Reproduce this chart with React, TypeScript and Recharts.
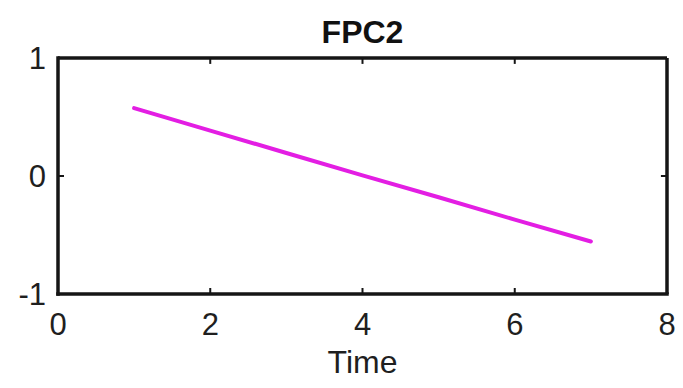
import { LineChart, Line, XAxis, YAxis, ReferenceLine } from 'recharts'

const times = [1, 2, 3, 4, 5, 6, 7]
const fpc2 = [0.575, 0.385, 0.195, 0.005, -0.18, -0.37, -0.555]
const xTicks = [0, 2, 4, 6, 8]
const yTicks = [-1, 0, 1]
const innerXTicks = [2, 4, 6]

const data = times.map((t, i) => ({ time: t, value: fpc2[i] }))

const FONT = '"Liberation Sans", Arial, sans-serif'
const INK = '#1f1f1f'
const AXIS = '#151515'
const FRAME_W = 3.5
const TICK_LEN = 6
const axisLine = { stroke: AXIS, strokeWidth: FRAME_W, strokeLinecap: 'square' as const }

function BottomTick({ x, y, payload }: any) {
  return (
    <g>
      <line x1={x} x2={x} y1={y - 41} y2={y - 41 - TICK_LEN} stroke={AXIS} strokeWidth={2} />
      <text x={x} y={y} textAnchor="middle" fontFamily={FONT} fontSize={31} fill={INK}>
        {payload.value}
      </text>
    </g>
  )
}

function LeftTick({ x, y, payload }: any) {
  return (
    <g>
      <line x1={x + 12} x2={x + 12 + TICK_LEN} y1={y} y2={y} stroke={AXIS} strokeWidth={2} />
      <text x={x} y={y + 11} textAnchor="end" fontFamily={FONT} fontSize={31} fill={INK}>
        {payload.value}
      </text>
    </g>
  )
}

export default function App() {
  return (
    <div style={{ position: 'absolute', left: 0, top: 0, background: '#fff' }}>
      <LineChart width={683} height={388} data={data} margin={{ top: 58, right: 16, bottom: 0, left: 0 }}>
        <XAxis
          dataKey="time"
          type="number"
          domain={[0, 8]}
          ticks={xTicks}
          height={94}
          tickSize={0}
          tickMargin={41}
          tickLine={false}
          axisLine={axisLine}
          tick={<BottomTick />}
          interval={0}
          label={{
            value: 'Time',
            position: 'insideBottom',
            offset: 15,
            fontFamily: FONT,
            fontSize: 32,
            fill: INK,
          }}
        />
        <YAxis
          type="number"
          domain={[-1, 1]}
          ticks={yTicks}
          width={58}
          tickSize={0}
          tickMargin={12}
          tickLine={false}
          axisLine={axisLine}
          tick={<LeftTick />}
          interval={0}
        />
        {/* top and right sides of the box, with their inward ticks */}
        <ReferenceLine
          y={1}
          stroke={AXIS}
          strokeWidth={FRAME_W}
          label={{
            value: 'FPC2',
            position: 'top',
            offset: 15,
            fontFamily: FONT,
            fontSize: 32,
            fontWeight: 'bold',
            fill: '#111',
          }}
        />
        <ReferenceLine x={8} stroke={AXIS} strokeWidth={FRAME_W} />
        {innerXTicks.map((t) => (
          <ReferenceLine
            key={t}
            segment={[
              { x: t, y: 1 },
              { x: t, y: 0.95 },
            ]}
            stroke={AXIS}
            strokeWidth={2}
          />
        ))}
        <ReferenceLine
          segment={[
            { x: 8, y: 0 },
            { x: 7.92, y: 0 },
          ]}
          stroke={AXIS}
          strokeWidth={2}
        />
        <Line
          type="linear"
          dataKey="value"
          stroke="#e31ee3"
          strokeWidth={4}
          strokeLinecap="round"
          dot={false}
          activeDot={false}
          isAnimationActive={false}
        />
      </LineChart>
    </div>
  )
}
